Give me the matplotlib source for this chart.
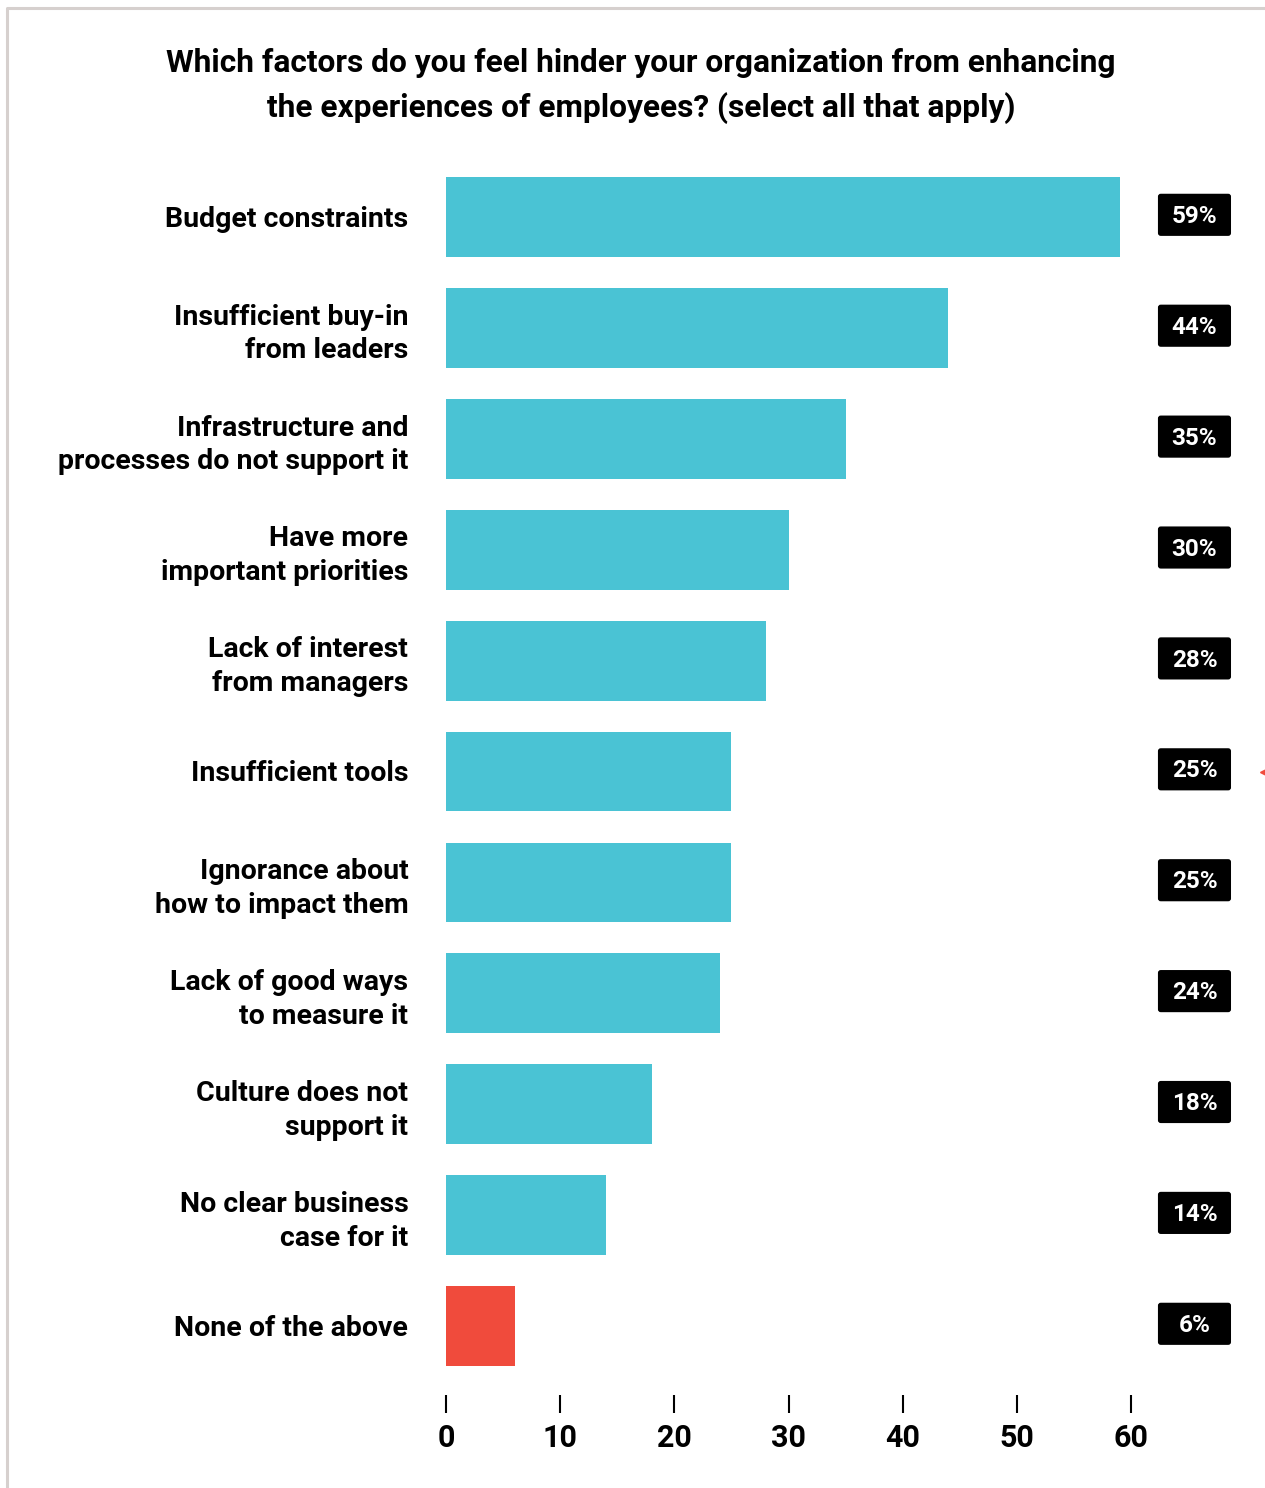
import matplotlib.pyplot as plt
from matplotlib.patches import FancyBboxPatch
from matplotlib.lines import Line2D

plt.rcParams['font.family'] = ['Roboto', 'DejaVu Sans']

# survey answers, top to bottom
factors = ["Budget constraints",
           "Insufficient buy-in\nfrom leaders",
           "Infrastructure and\nprocesses do not support it",
           "Have more\nimportant priorities",
           "Lack of interest\nfrom managers",
           "Insufficient tools",
           "Ignorance about\nhow to impact them",
           "Lack of good ways\nto measure it",
           "Culture does not\nsupport it",
           "No clear business\ncase for it",
           "None of the above"]
percent = [59, 44, 35, 30, 28, 25, 25, 24, 18, 14, 6]
ticks = [0, 10, 20, 30, 40, 50, 60]

teal = "#4ac3d4"
red = "#f04b3c"
colors = [teal] * (len(percent) - 1) + [red]

W, H = 1265, 1488
fig = plt.figure(figsize=(W / 100, H / 100), dpi=100)
ax = fig.add_axes([446 / W, 1 - 1395 / H, 685 / W, (1395 - 150.5) / H])

ypos = list(range(len(percent)))
ax.barh(ypos, percent, height=0.72, color=colors)
ax.set_xlim(0, 60)
ax.set_ylim(len(percent) - 1 + 0.622, -0.6)

for s in ax.spines.values():
    s.set_visible(False)
ax.set_yticks([])
ax.set_xticks(ticks)
ax.set_xticklabels([str(t) for t in ticks], fontsize=22, fontweight='bold')
ax.tick_params(axis='x', length=13, width=1.5, pad=7, color='black')

# category names on the left
for y, name in zip(ypos, factors):
    shift = 0.055 if "\n" in name else 0.02
    ax.text(-3.3, y + shift, name, ha='right', va='center', fontsize=20.5,
            fontweight='bold', linespacing=1.32, clip_on=False)

# value badges on the right
for y, v in zip(ypos, percent):
    box = FancyBboxPatch((62.36, y - 0.21), 6.4, 0.38,
                         boxstyle="round,pad=0,rounding_size=0.25",
                         mutation_aspect=0.1, facecolor='black',
                         edgecolor='none', clip_on=False)
    ax.add_patch(box)
    ax.text(65.56, y - 0.005, f"{v}%", ha='center', va='center', color='white',
            fontsize=17.5, fontweight='bold', clip_on=False)

fig.text(641 / W, 1 - 86 / H,
         "Which factors do you feel hinder your organization from enhancing\n"
         "the experiences of employees? (select all that apply)",
         ha='center', va='center', fontsize=22.8, fontweight='bold',
         linespacing=1.56)

# frame lines at the left and top edges
fig.add_artist(Line2D([7.5 / W, 7.5 / W, 1], [0, 1 - 8 / H, 1 - 8 / H],
                      transform=fig.transFigure, color='#d6d0ce', lw=2.2))
fig.add_artist(Line2D([1264 / W], [1 - 772 / H], transform=fig.transFigure,
                      marker='<', markersize=6, color=red, lw=0))

fig.savefig("out.png", dpi=100)
